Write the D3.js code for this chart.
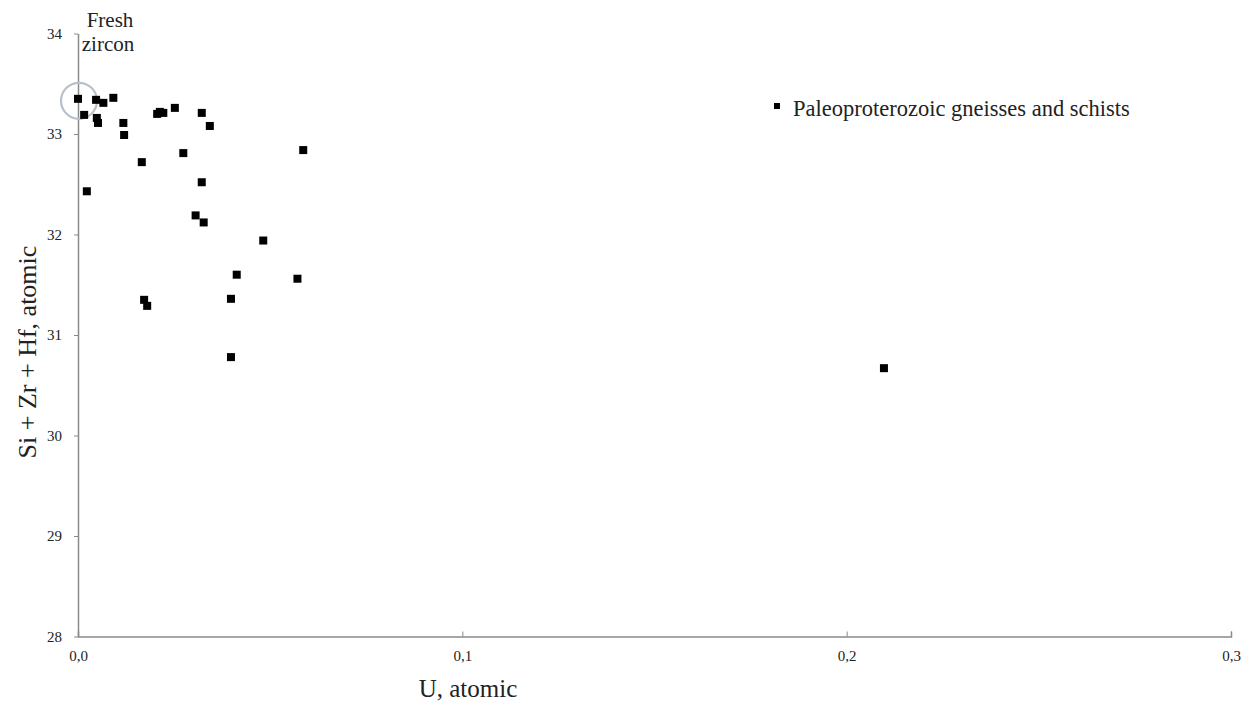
<!DOCTYPE html>
<html>
<head>
<meta charset="utf-8">
<script src="https://cdn.jsdelivr.net/npm/d3@7"></script>
<style>
  html, body { margin: 0; padding: 0; background: #fff; }
  svg { display: block; }
  svg text { font-family: "Liberation Serif", "Times New Roman", serif !important; fill: #222; }
</style>
</head>
<body>
<svg id="chart" width="1249" height="709"></svg>
<script>
// ---- data ----
const uValues = [0, 0.0016, 0.0047, 0.0049, 0.0052, 0.0066, 0.0092, 0.0118, 0.0120, 0.0206,
                 0.0213, 0.0222, 0.0252, 0.0322, 0.0343, 0.0274, 0.0166, 0.0023, 0.0322, 0.0586,
                 0.0306, 0.0327, 0.0482, 0.0413, 0.0571, 0.0172, 0.0180, 0.0398, 0.0398, 0.2097];
const sumValues = [33.35, 33.19, 33.34, 33.16, 33.11, 33.31, 33.36, 33.11, 32.99, 33.20,
                   33.22, 33.21, 33.26, 33.21, 33.08, 32.81, 32.72, 32.43, 32.52, 32.84,
                   32.19, 32.12, 31.94, 31.60, 31.56, 31.35, 31.29, 31.36, 30.78, 30.67];
const xTicks = [0, 0.1, 0.2, 0.3];
const yTicks = [28, 29, 30, 31, 32, 33, 34];
const seriesName = "Paleoproterozoic gneisses and schists";
const xTitle = "U, atomic";
const yTitle = "Si + Zr + Hf, atomic";
const freshLabel = ["Fresh", "zircon"];
const freshPoint = [0, 33.35];

// ---- chart ----
const serif = "'Liberation Serif', 'Times New Roman', serif";
const svg = d3.select("#chart");
const x = d3.scaleLinear().domain([0, 0.3]).range([78, 1231]);
const y = d3.scaleLinear().domain([28, 34]).range([636.5, 33.5]);
const axisColor = "#8a8a8a";
const commaFmt = v => d3.format(".1f")(v).replace(".", ",");

// x axis (inward ticks)
const gx = svg.append("g").attr("transform", `translate(0,${y(28)})`)
  .call(d3.axisBottom(x).tickValues(xTicks).tickSize(-5).tickPadding(14).tickFormat(commaFmt));
gx.attr("font-family", null);
gx.select(".domain").attr("stroke", axisColor).attr("stroke-width", 1.5);
gx.selectAll(".tick line").attr("stroke", axisColor);
gx.selectAll(".tick text").style("font-family", serif).style("font-size", "15px").attr("fill", "#333");

// y axis (outer ticks)
const gy = svg.append("g").attr("transform", `translate(${x(0)},0)`)
  .call(d3.axisLeft(y).tickValues(yTicks).tickSize(4).tickSizeOuter(0).tickPadding(12).tickFormat(d3.format("d")));
gy.attr("font-family", null);
gy.select(".domain").attr("stroke", axisColor).attr("stroke-width", 1.5);
gy.selectAll(".tick line").attr("stroke", axisColor);
gy.selectAll(".tick text").style("font-family", serif).style("font-size", "15px").attr("fill", "#333");

// axis titles
svg.append("text").attr("x", 468).attr("y", 697).attr("text-anchor", "middle")
  .style("font-size", "25px").text(xTitle);
svg.append("text").attr("transform", `translate(36,${352}) rotate(-90)`)
  .attr("text-anchor", "middle").style("font-size", "26px").text(yTitle);

// fresh zircon circle
svg.append("circle").attr("cx", x(freshPoint[0]) + 1).attr("cy", y(freshPoint[1]) + 2)
  .attr("r", 18).attr("fill", "none").attr("stroke", "#b8c0cc").attr("stroke-width", 2.2);

// points
const ms = 8;
svg.append("g").selectAll("rect").data(uValues.map((u, i) => [u, sumValues[i]]))
  .join("rect")
  .attr("x", d => x(d[0]) - ms / 2)
  .attr("y", d => y(d[1]) - ms / 2)
  .attr("width", ms).attr("height", ms)
  .attr("fill", "#000");

// fresh zircon label
svg.append("text").attr("x", 110).attr("y", 27).attr("text-anchor", "middle")
  .style("font-size", "21px").text(freshLabel[0]);
svg.append("text").attr("x", 108).attr("y", 51).attr("text-anchor", "middle")
  .style("font-size", "21px").text(freshLabel[1]);

// legend
svg.append("rect").attr("x", 774).attr("y", 103).attr("width", 6).attr("height", 6).attr("fill", "#000");
svg.append("text").attr("x", 793).attr("y", 116).style("font-size", "22.5px").text(seriesName);
</script>
</body>
</html>
